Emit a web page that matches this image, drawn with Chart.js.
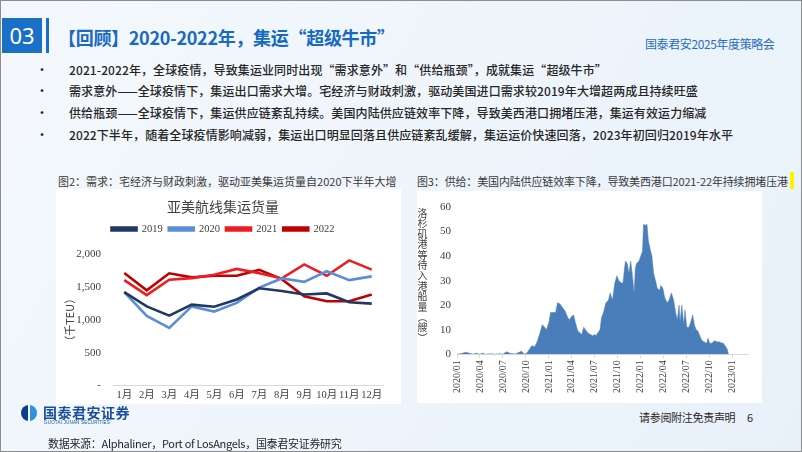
<!DOCTYPE html>
<html>
<head>
<meta charset="utf-8">
<script src="https://cdn.jsdelivr.net/npm/chart.js@4.4.1/dist/chart.umd.min.js"></script>
<style>
  html, body { margin: 0; padding: 0; }
  body {
    width: 800px; height: 450px; position: relative; overflow: hidden;
    border: 1px solid #8c8c8c;
    background: linear-gradient(120deg, #f4f8fc 0%, #eef5fb 50%, #e8f1fa 100%);
    font-family: "Noto Sans CJK SC", "Noto Sans", sans-serif;
  }
  .abs { position: absolute; white-space: nowrap; }
  #num { left: 1px; top: 17px; width: 40px; height: 35px; background: #1a6fc7; color: #fff;
         font-size: 22px; line-height: 35px; text-align: center; font-family: "Noto Sans", sans-serif; }
  #bar { left: 45px; top: 17px; width: 3px; height: 35px; background: #1a6fc7; }
  #title { left: 57px; top: 22px; font-size: 18px; font-weight: bold; color: #1769c2; line-height: 28px; letter-spacing: -0.3px; }
  #event { left: 644px; top: 34px; font-size: 12px; color: #2a6cc0; letter-spacing: -0.4px; }
  .bullet { left: 35px; font-size: 12px; color: #262626; font-weight: 500; letter-spacing: 0.1px; }
  .bullet span.dot { display: inline-block; width: 33px; }
  .cap { top: 172px; font-size: 11px; color: #3a3a3a; letter-spacing: 0; }
  #cap3 { letter-spacing: -0.15px; }
  #mark { left: 789px; top: 171px; width: 4px; height: 17px; background: #fff200; }
  #c1wrap { left: 55px; top: 188px; width: 345px; height: 215px; background: #fff; }
  #c2wrap { left: 416px; top: 190px; width: 345px; height: 212px; background: #fff; }
  #c1wrap canvas, #c2wrap canvas { display: block; }
  #vtitle { left: 415px; top: 207px; width: 13px; font-size: 10px; line-height: 10.4px; color: #404040; text-align: center; }
  #vtitle span { display: block; height: 10.4px; }
  #logo { left: 20px; top: 404px; width: 16px; height: 16px; border-radius: 50%;
          background: linear-gradient(90deg, #0d3d8a 0 45%, #fff 45% 58%, #2f8fe0 58% 100%); }
  #logoTxt { left: 42px; top: 401px; font-size: 14px; font-weight: bold; color: #1a4e9e; letter-spacing: 0.5px; }
  #logoSub { left: 43px; top: 419px; font-size: 4.5px; color: #1a4e9e; letter-spacing: 0.2px; font-family: "Liberation Sans", sans-serif; }
  #disc { left: 638px; top: 408px; font-size: 11px; color: #262626; letter-spacing: -0.3px; }
  #page { left: 746px; top: 408px; font-size: 11px; color: #262626; }
  #src { left: 47px; top: 434px; font-size: 11px; color: #262626; letter-spacing: -0.3px; }
</style>
</head>
<body>
<div id="num" class="abs">03</div>
<div id="bar" class="abs"></div>
<div id="title" class="abs">【回顾】2020-2022年，集运“超级牛市”</div>
<div id="event" class="abs">国泰君安2025年度策略会</div>

<div class="abs bullet" style="top:60px"><span class="dot">•</span>2021-2022年，全球疫情，导致集运业同时出现“需求意外”和“供给瓶颈”，成就集运“超级牛市”</div>
<div class="abs bullet" style="top:81px"><span class="dot">•</span>需求意外——全球疫情下，集运出口需求大增。宅经济与财政刺激，驱动美国进口需求较2019年大增超两成且持续旺盛</div>
<div class="abs bullet" style="top:103px"><span class="dot">•</span>供给瓶颈——全球疫情下，集运供应链紊乱持续。美国内陆供应链效率下降，导致美西港口拥堵压港，集运有效运力缩减</div>
<div class="abs bullet" style="top:125px"><span class="dot">•</span>2022下半年，随着全球疫情影响减弱，集运出口明显回落且供应链紊乱缓解，集运运价快速回落，2023年初回归2019年水平</div>

<div class="abs cap" style="left:57px">图2：需求：宅经济与财政刺激，驱动亚美集运货量自2020下半年大增</div>
<div id="cap3" class="abs cap" style="left:416px">图3：供给：美国内陆供应链效率下降，导致美西港口2021-22年持续拥堵压港</div>
<div id="mark" class="abs"></div>

<div id="c1wrap" class="abs"><canvas id="c1" width="345" height="217"></canvas></div>
<div id="c2wrap" class="abs"><canvas id="c2" width="345" height="212"></canvas></div>
<div id="vtitle" class="abs"></div>

<div id="logo" class="abs"></div>
<div id="logoTxt" class="abs">国泰君安证券</div>
<div id="logoSub" class="abs">GUOTAI JUNAN SECURITIES</div>
<div id="disc" class="abs">请参阅附注免责声明</div>
<div id="page" class="abs">6</div>
<div id="src" class="abs">数据来源：Alphaliner，Port of LosAngels，国泰君安证券研究</div>

<script>
// ---- chart 2: Asia-US container volume (thousand TEU)
const months = ['1月', '2月', '3月', '4月', '5月', '6月', '7月', '8月', '9月', '10月', '11月', '12月'];
const vol2019 = [1423, 1205, 1065, 1232, 1200, 1310, 1481, 1439, 1387, 1403, 1268, 1247];
const vol2020 = [1423, 1060, 878, 1205, 1127, 1258, 1492, 1632, 1580, 1741, 1606, 1663];
const vol2021 = [1606, 1377, 1611, 1637, 1689, 1777, 1710, 1632, 1845, 1673, 1907, 1766];
const vol2022 = [1715, 1450, 1710, 1648, 1673, 1673, 1762, 1621, 1361, 1283, 1283, 1387];
const volTicks = [0, 500, 1000, 1500, 2000];

// ---- chart 3: ships waiting at Port of Los Angeles
const waitTitle = '洛杉矶港等待入港船量︵艘︶';
const waitDates = [
  '2020-01-01', '2020-01-20', '2020-02-05', '2020-02-20', '2020-03-05', '2020-03-15', '2020-04-01', '2020-04-10',
  '2020-04-25', '2020-05-15', '2020-06-01', '2020-06-20', '2020-07-01', '2020-07-15', '2020-08-01', '2020-08-20',
  '2020-09-05', '2020-09-15', '2020-09-25', '2020-10-05', '2020-10-15', '2020-10-25', '2020-11-05', '2020-11-15',
  '2020-11-25', '2020-12-05', '2020-12-15', '2020-12-22', '2021-01-01', '2021-01-08', '2021-01-20', '2021-01-28',
  '2021-02-05', '2021-02-15', '2021-02-25', '2021-03-05', '2021-03-15', '2021-03-22', '2021-04-01', '2021-04-08',
  '2021-04-15', '2021-04-25', '2021-05-05', '2021-05-10', '2021-05-18', '2021-05-25', '2021-06-05', '2021-06-15',
  '2021-06-22', '2021-07-01', '2021-07-05', '2021-07-15', '2021-07-22', '2021-07-28', '2021-08-05', '2021-08-15',
  '2021-08-25', '2021-09-01', '2021-09-10', '2021-09-20', '2021-09-28', '2021-10-05', '2021-10-15', '2021-10-22',
  '2021-10-28', '2021-11-01', '2021-11-08', '2021-11-15', '2021-11-22', '2021-11-28', '2021-12-05', '2021-12-10',
  '2021-12-15', '2021-12-25', '2022-01-01', '2022-01-08', '2022-01-12', '2022-01-20', '2022-01-26', '2022-02-01',
  '2022-02-10', '2022-02-15', '2022-02-22', '2022-03-01', '2022-03-05', '2022-03-15', '2022-03-20', '2022-03-28',
  '2022-04-05', '2022-04-15', '2022-04-22', '2022-05-01', '2022-05-10', '2022-05-20', '2022-05-25', '2022-06-01',
  '2022-06-05', '2022-06-12', '2022-06-20', '2022-06-25', '2022-07-01', '2022-07-10', '2022-07-20', '2022-07-25',
  '2022-08-01', '2022-08-08', '2022-08-15', '2022-08-25', '2022-09-01', '2022-09-10', '2022-09-20', '2022-09-25',
  '2022-10-01', '2022-10-10', '2022-10-20', '2022-11-01', '2022-11-10', '2022-11-20', '2022-11-25', '2022-12-01',
  '2022-12-10', '2022-12-15'
];
const waitShips = [
  0, 0.3, 0.8, 0.4, 0, 0.4, 0, 0.4,
  0, 0.2, 0, 0.2, 0, 1.0, 0.3, 0.1,
  0.8, 1.2, 0, 0.5, 2, 3.5, 3, 5,
  8, 12, 11, 10, 13, 17, 17, 17,
  21, 20.5, 19, 17.5, 15, 14, 15.5, 16,
  13, 9.5, 8.5, 8, 11, 10, 8.5, 8,
  7.5, 8, 7.5, 9, 10, 15, 17, 21,
  22, 25, 22, 29, 32, 30, 29, 29,
  35, 38, 37, 33, 38, 33, 25, 35,
  37, 38, 40, 42, 53, 52.5, 53, 46,
  42, 40, 33, 29, 27, 26, 28, 27,
  23, 21, 22, 25, 22, 16, 14, 20,
  13, 20, 12, 18, 11, 11, 14, 16,
  12, 10, 9.5, 7, 5.5, 5, 4.5, 6.5,
  4.5, 4.5, 5.5, 5, 5, 4.5, 4.5, 3.5,
  2, 0
];

const serif = '"Liberation Serif", "Noto Sans CJK SC", serif';
const cjk = '"Noto Sans CJK SC", sans-serif';

// stacked vertical axis title of the right chart
document.getElementById('vtitle').innerHTML = [...waitTitle].map(c => '<span>' + c + '</span>').join('');

// months since 2020/01
function monthIndex(s) {
    const [y, m, d] = s.split('-').map(Number);
    return (y - 2020) * 12 + (m - 1) + (d - 1) / 31;
}

function lineSet(label, data, color) {
    return {
        label: label,
        data: data,
        borderColor: color,
        backgroundColor: color,
        borderWidth: 2.6,
        pointRadius: 0,
        tension: 0
    };
}

// extra room under the legend
const legendGap = {
    id: 'legendGap',
    beforeInit(chart) {
        const fit = chart.legend.fit;
        chart.legend.fit = function() {
            fit.call(this);
            this.height += 10;
        };
    }
};

new Chart(document.getElementById('c1'), {
    type: 'line',
    data: {
        labels: months,
        datasets: [
            lineSet('2019', vol2019, '#1f3864'),
            lineSet('2020', vol2020, '#5b8ed6'),
            lineSet('2021', vol2021, '#ee1c23'),
            lineSet('2022', vol2022, '#c00000')
        ]
    },
    plugins: [legendGap],
    options: {
        responsive: false,
        animation: false,
        layout: { padding: { left: 7, right: 18, bottom: 0 } },
        plugins: {
            title: {
                display: true,
                text: '亚美航线集运货量',
                color: '#404040',
                font: { family: cjk, size: 14, weight: 'normal' },
                padding: { top: 9, bottom: 3 }
            },
            legend: {
                position: 'top',
                labels: {
                    boxWidth: 25,
                    boxHeight: 3,
                    color: '#404040',
                    font: { family: serif, size: 10.5 },
                    padding: 6
                }
            },
            tooltip: { enabled: false }
        },
        scales: {
            x: {
                offset: true,
                grid: { display: false, drawTicks: false },
                border: { color: '#d9d9d9' },
                ticks: {
                    color: '#404040',
                    font: { family: serif, size: 10.5 },
                    padding: 4,
                    autoSkip: false,
                    maxRotation: 0,
                    minRotation: 0
                }
            },
            y: {
                min: 0,
                max: 2000,
                afterBuildTicks: axis => { axis.ticks = volTicks.map(v => ({ value: v })); },
                afterFit: axis => { axis.width = 50; },
                grid: { display: false, drawTicks: false },
                border: { display: false },
                title: {
                    display: true,
                    text: '（千TEU）',
                    color: '#404040',
                    font: { family: cjk, size: 11 },
                    padding: 0
                },
                ticks: {
                    color: '#404040',
                    font: { family: serif, size: 11 },
                    padding: 12,
                    callback: v => v === 0 ? '-' : v.toLocaleString('en-US')
                }
            }
        }
    }
});

new Chart(document.getElementById('c2'), {
    type: 'line',
    data: {
        datasets: [{
            label: '洛杉矶港等待入港船量',
            data: waitDates.map((d, i) => ({ x: monthIndex(d), y: waitShips[i] })),
            borderColor: '#4a7ebb',
            backgroundColor: '#4a7ebb',
            borderWidth: 0.5,
            pointRadius: 0,
            fill: 'origin',
            tension: 0
        }]
    },
    options: {
        responsive: false,
        animation: false,
        layout: { padding: { left: 17, right: 14, top: 16, bottom: 8 } },
        plugins: { legend: { display: false }, tooltip: { enabled: false } },
        scales: {
            x: {
                type: 'linear',
                min: 0,
                max: 38,
                grid: { drawOnChartArea: false, drawTicks: true, tickLength: 4, color: '#d9d9d9' },
                border: { color: '#d9d9d9' },
                ticks: {
                    stepSize: 3,
                    minRotation: 90,
                    maxRotation: 90,
                    color: '#404040',
                    font: { family: serif, size: 10 },
                    padding: 2,
                    callback: v => {
                        if (v % 3 !== 0) return null;
                        const y = 2020 + Math.floor(v / 12);
                        const m = v % 12 + 1;
                        return y + '/' + String(m).padStart(2, '0');
                    }
                }
            },
            y: {
                min: 0,
                max: 60,
                grid: { display: false, drawTicks: false },
                border: { display: false },
                ticks: { stepSize: 10, color: '#404040', font: { family: serif, size: 11 }, padding: 6 }
            }
        }
    }
});
</script>
</body>
</html>
